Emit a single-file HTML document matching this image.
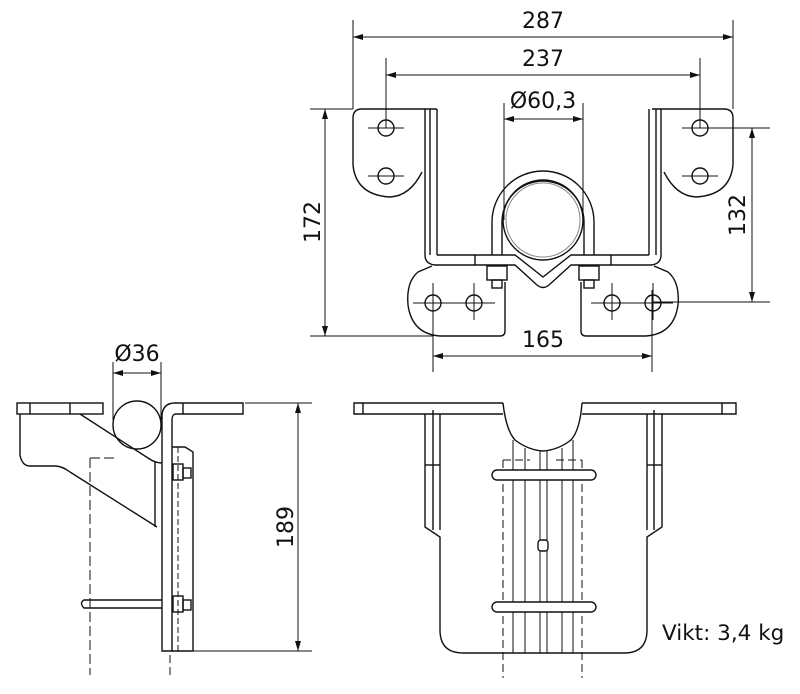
<!DOCTYPE html>
<html><head><meta charset="utf-8"><style>
html,body{margin:0;padding:0;background:#fff}
svg{display:block}
text{font-family:"DejaVu Sans","Liberation Sans",sans-serif;fill:#111}
</style></head><body>
<svg width="800" height="694" viewBox="0 0 800 694" xmlns="http://www.w3.org/2000/svg">
<defs>
<marker id="a" viewBox="0 0 10 6" refX="10" refY="3" markerWidth="10" markerHeight="6" orient="auto-start-reverse" markerUnits="userSpaceOnUse"><path d="M0,0 L10,3 L0,6 Z" fill="#111"/></marker>
</defs>
<g stroke="#111" fill="none" stroke-width="1">
<!-- ===== TOP VIEW DIMENSIONS ===== -->
<line x1="353" y1="20" x2="353" y2="109"/><line x1="733" y1="20" x2="733" y2="109"/>
<line x1="353" y1="37" x2="733" y2="37" marker-start="url(#a)" marker-end="url(#a)"/>
<line x1="386" y1="58" x2="386" y2="128"/><line x1="700" y1="58" x2="700" y2="128"/>
<line x1="386" y1="75" x2="700" y2="75" marker-start="url(#a)" marker-end="url(#a)"/>
<line x1="504" y1="103" x2="504" y2="220"/><line x1="583" y1="103" x2="583" y2="220"/>
<line x1="504" y1="119" x2="583" y2="119" marker-start="url(#a)" marker-end="url(#a)"/>
<line x1="310" y1="109" x2="353" y2="109"/><line x1="310" y1="336" x2="433" y2="336"/>
<line x1="325" y1="109" x2="325" y2="336" marker-start="url(#a)" marker-end="url(#a)"/>
<line x1="700" y1="128" x2="770" y2="128"/><line x1="653" y1="302" x2="770" y2="302"/>
<line x1="752" y1="128" x2="752" y2="302" marker-start="url(#a)" marker-end="url(#a)"/>
<line x1="433" y1="290" x2="433" y2="372"/><line x1="652" y1="290" x2="652" y2="372"/>
<line x1="433" y1="356" x2="652" y2="356" marker-start="url(#a)" marker-end="url(#a)"/>
</g>
<g stroke="#111" fill="none" stroke-width="1.4">
<!-- ===== TOP VIEW PART ===== -->
<path d="M437,109 L362,109 Q353,109 353,118 L353,165 Q356,195 390,197 Q410,196 422,172"/>
<path d="M425,109 L425,255 M437,109 L437,255 M430,109 L430,255"/>
<circle cx="386" cy="128" r="8"/><circle cx="386" cy="176" r="8"/>
<path d="M652,109 L724,109 Q733,109 733,118 L733,165 Q730,195 696,197 Q676,196 664,172"/>
<path d="M649,109 L649,255 M661,109 L661,255 M656,109 L656,255"/>
<circle cx="700" cy="128" r="8"/><circle cx="700" cy="176" r="8"/>
<path d="M425,255 Q425,264 435,265 L515,265 L537,285 Q543,290 549,285 L571,265 L651,265 Q661,264 661,255"/>
<path d="M437,255 L515,255 L543,277 L571,255 L649,255"/>
<line x1="475" y1="255" x2="475" y2="265"/><line x1="611" y1="255" x2="611" y2="265"/>
<path d="M492,255 L492,222 A51,51 0 0 1 594,222 L594,255"/>
<path d="M502,255 L502,222 A41,41 0 0 1 584,222 L584,255"/>
<circle cx="543" cy="220" r="40"/>
<circle cx="543" cy="220" r="37" stroke="#888" stroke-width="1"/>
<rect x="487" y="266" width="20" height="14"/><rect x="492" y="280" width="10" height="8"/>
<rect x="579" y="266" width="20" height="14"/><rect x="584" y="280" width="10" height="8"/>
<path d="M432,266 L418,272 Q406,282 408,305 Q412,334 440,336 L500,336 Q505,336 505,331 L505,282"/>
<path d="M654,266 L668,272 Q680,282 678,305 Q674,334 646,336 L586,336 Q581,336 581,331 L581,282"/>
<circle cx="433" cy="303" r="8"/><circle cx="474" cy="303" r="8"/>
<circle cx="612" cy="303" r="8"/><circle cx="653" cy="303" r="8"/>
</g>
<g stroke="#111" fill="none" stroke-width="1">
<line x1="368" y1="128" x2="404" y2="128"/><line x1="368" y1="176" x2="404" y2="176"/>
<line x1="682" y1="128" x2="718" y2="128"/><line x1="682" y1="176" x2="718" y2="176"/>
<line x1="413" y1="303" x2="495" y2="303"/><line x1="433" y1="283" x2="433" y2="320"/><line x1="474" y1="283" x2="474" y2="320"/>
<line x1="591" y1="303" x2="673" y2="303"/><line x1="612" y1="283" x2="612" y2="320"/><line x1="653" y1="283" x2="653" y2="320"/>

<!-- ===== SIDE VIEW ===== -->
<line x1="113" y1="362" x2="113" y2="420"/><line x1="161" y1="362" x2="161" y2="420"/>
<line x1="113" y1="373" x2="161" y2="373" marker-start="url(#a)" marker-end="url(#a)"/>
<line x1="245" y1="403" x2="312" y2="403"/><line x1="193" y1="651" x2="312" y2="651"/>
<line x1="298" y1="403" x2="298" y2="651" marker-start="url(#a)" marker-end="url(#a)"/>
<path d="M90,458 L115,458 M90,458 L90,675" stroke-dasharray="10,4"/>
<line x1="170" y1="655" x2="170" y2="675" stroke-dasharray="8,4"/>
<line x1="178" y1="447" x2="178" y2="651" stroke-dasharray="6,3"/>
</g>
<g stroke="#111" fill="none" stroke-width="1.4">
<rect x="17" y="403" width="86" height="11"/>
<line x1="30" y1="403" x2="30" y2="414"/><line x1="70" y1="403" x2="70" y2="414"/>
<path d="M20,414 L20,455 Q22,466 30,466 L55,466 Q62,466 70,472 L157,527"/>
<path d="M80,414 L148,458 Q155,463 162,463"/>
<circle cx="137" cy="425" r="24"/>
<path d="M162,651 L162,415 Q163,403 175,403 L243,403 L243,414 L175,414 Q172,415 172,420 L172,651 Z"/>
<line x1="183" y1="403" x2="183" y2="414"/>
<path d="M172,447 L185,447 L193,452 L193,651 L172,651"/>
<line x1="155" y1="462" x2="155" y2="527"/>
<rect x="173" y="464" width="10" height="16"/><rect x="183" y="468" width="8" height="10"/>
<rect x="173" y="596" width="10" height="16"/><rect x="183" y="600" width="8" height="10"/>
<path d="M162,600 L84,600 Q79,603 84,608 L162,608"/>

<!-- ===== FRONT VIEW ===== -->
<path d="M503,403 L354,403 L354,414 L425,414 M662,414 L736,414 L736,403 L582,403"/>
<line x1="363" y1="403" x2="363" y2="414"/><line x1="722" y1="403" x2="722" y2="414"/>
<path d="M503,403 Q506,430 515,440 Q528,450 543,451 Q558,450 571,440 Q580,430 582,403"/>
<path d="M425,414 L425,527 L440,537 L440,630 Q440,653 463,653 L624,653 Q647,653 647,630 L647,537 L662,527 L662,414"/>
<path d="M440,414 L440,530 M647,414 L647,530 M433,410 L433,530 M654,410 L654,530"/>
<line x1="425" y1="465" x2="440" y2="465"/><line x1="647" y1="465" x2="662" y2="465"/>
<line x1="425" y1="414" x2="503" y2="414"/><line x1="582" y1="414" x2="662" y2="414"/>
</g>
<g stroke="#111" fill="none" stroke-width="1">
<line x1="513" y1="440" x2="513" y2="653"/><line x1="525" y1="448" x2="525" y2="653"/>
<line x1="540" y1="451" x2="540" y2="653"/><line x1="547" y1="451" x2="547" y2="653"/>
<line x1="562" y1="448" x2="562" y2="653"/><line x1="573" y1="440" x2="573" y2="653"/>
<path d="M503,460 L503,678 M582,460 L582,678 M503,460 L530,460 M556,460 L582,460" stroke-dasharray="8,4"/>
</g>
<g stroke="#111" fill="#fff" stroke-width="1.4">
<rect x="492" y="470" width="104" height="10" rx="5"/>
<rect x="492" y="602" width="104" height="10" rx="5"/>
<rect x="538" y="540" width="10" height="11" rx="3"/>
</g>
<text x="543" y="28" font-size="22" text-anchor="middle">287</text>
<text x="543" y="66" font-size="22" text-anchor="middle">237</text>
<text x="543" y="108" font-size="22" text-anchor="middle">Ø60,3</text>
<text x="543" y="347" font-size="22" text-anchor="middle">165</text>
<text x="137" y="361" font-size="22" text-anchor="middle">Ø36</text>
<text transform="translate(320,222) rotate(-90)" font-size="22" text-anchor="middle">172</text>
<text transform="translate(745,215) rotate(-90)" font-size="22" text-anchor="middle">132</text>
<text transform="translate(293,527) rotate(-90)" font-size="22" text-anchor="middle">189</text>
<text x="662" y="640" font-size="21.5">Vikt: 3,4 kg</text>
</svg>
</body></html>
